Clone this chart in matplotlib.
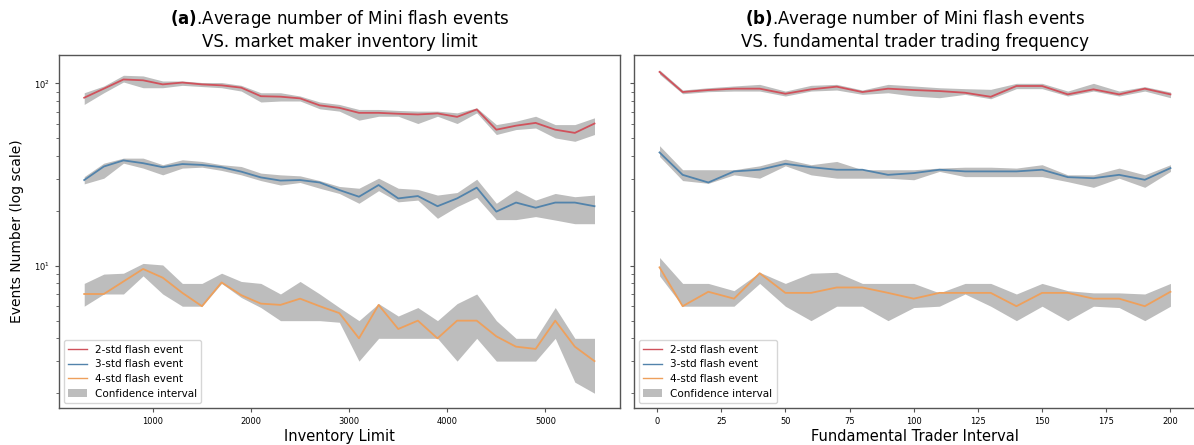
import matplotlib
matplotlib.use("Agg")
import matplotlib.pyplot as plt
from matplotlib.patches import Patch
from matplotlib.lines import Line2D

# ---------------- data ----------------
inventory_limit = [300, 500, 700, 900, 1100, 1300, 1500, 1700, 1900, 2100, 2300, 2500, 2700,
                   2900, 3100, 3300, 3500, 3700, 3900, 4100, 4300, 4500, 4700, 4900, 5100, 5300, 5500]

std2_a = [83.4, 93.5, 105.0, 103.9, 98.7, 101.0, 98.7, 97.5, 94.7, 85.0, 84.5, 82.7, 75.7, 73.4,
          68.9, 68.9, 68.1, 67.5, 68.4, 65.5, 71.9, 55.7, 58.6, 60.7, 55.7, 53.5, 60.2]
std2_a_lo = [76.6, 88.8, 101.7, 94.6, 94.6, 97.5, 96.0, 94.6, 90.7, 79.0, 80.0, 80.0, 72.5, 70.4,
             62.8, 66.0, 66.0, 60.2, 66.0, 60.2, 68.9, 52.4, 55.8, 56.9, 50.2, 48.1, 52.4]
std2_a_hi = [88.8, 96.7, 110.7, 109.8, 103.0, 103.0, 101.0, 101.0, 97.5, 88.8, 88.8, 85.2, 79.0, 76.6,
             71.9, 71.9, 71.0, 70.4, 70.4, 68.9, 73.4, 59.4, 62.0, 66.0, 59.4, 59.4, 64.7]

std3_a = [29.5, 35.0, 37.8, 36.5, 34.7, 36.1, 35.7, 34.7, 32.8, 30.5, 29.3, 29.5, 28.6, 26.0,
          23.9, 27.7, 23.4, 24.1, 21.2, 23.4, 26.8, 19.8, 22.2, 20.8, 22.2, 22.2, 21.2]
std3_a_lo = [28.1, 30.2, 36.5, 34.3, 31.5, 34.3, 34.7, 33.3, 31.5, 29.3, 27.7, 28.6, 26.6, 24.9,
             22.0, 25.8, 22.4, 22.9, 18.2, 21.1, 23.7, 17.9, 17.9, 18.6, 17.8, 17.0, 17.0]
std3_a_hi = [30.8, 36.5, 38.9, 38.9, 35.8, 38.1, 37.3, 35.8, 35.0, 32.2, 31.5, 31.1, 29.3, 27.2,
             26.6, 30.2, 26.6, 26.2, 24.4, 25.2, 29.8, 22.0, 26.0, 22.9, 24.9, 23.9, 24.4]

std4_a = [7.0, 7.0, 8.2, 9.6, 8.6, 7.1, 6.0, 8.1, 6.9, 6.2, 6.1, 6.6, 6.0, 5.5,
          4.0, 6.1, 4.5, 5.0, 4.0, 5.0, 5.0, 4.1, 3.6, 3.5, 5.0, 3.6, 3.0]
std4_a_lo = [6.0, 7.0, 7.0, 8.8, 7.0, 6.0, 6.0, 8.0, 6.7, 5.9, 5.0, 5.0, 5.0, 4.9,
             3.0, 4.0, 4.0, 4.0, 4.0, 3.0, 4.0, 3.0, 3.0, 3.0, 4.0, 2.3, 2.0]
std4_a_hi = [8.0, 9.0, 9.1, 10.3, 10.1, 8.0, 8.0, 9.1, 8.2, 8.0, 7.0, 8.2, 7.0, 5.9,
             5.0, 6.2, 5.3, 5.9, 5.0, 6.2, 7.0, 5.0, 4.0, 4.0, 5.9, 4.0, 4.0]

trader_interval = [1, 10, 20, 30, 40, 50, 60, 70, 80, 90, 100, 110, 120, 130, 140, 150, 160, 170, 180, 190, 200]

std2_b = [115.5, 89.6, 91.9, 93.5, 93.5, 87.7, 92.7, 95.9, 89.6, 93.5, 91.9, 90.7, 88.8, 84.4,
          96.7, 96.7, 87.0, 92.7, 87.0, 93.5, 87.0]
std2_b_lo = [112.1, 87.7, 90.0, 90.7, 90.7, 85.2, 90.7, 91.9, 87.0, 88.8, 85.2, 83.4, 87.0, 82.3,
             93.5, 93.5, 85.2, 90.7, 85.2, 90.7, 83.4]
std2_b_hi = [118.4, 91.9, 94.6, 96.7, 98.7, 90.7, 97.5, 98.7, 91.9, 98.7, 96.7, 94.6, 93.5, 92.7,
             100.0, 100.0, 90.7, 100.0, 90.7, 95.9, 89.6]

std3_b = [41.8, 31.5, 28.6, 32.9, 33.6, 36.2, 34.7, 33.6, 33.6, 31.5, 32.2, 33.6, 32.9, 32.9,
          32.9, 33.6, 30.6, 30.2, 31.5, 29.6, 34.3]
std3_b_lo = [39.7, 29.3, 28.3, 31.5, 30.2, 35.3, 31.5, 30.2, 30.2, 30.2, 29.6, 32.9, 30.8, 30.8,
             30.8, 30.8, 28.9, 26.9, 30.2, 26.9, 32.9]
std3_b_hi = [45.5, 33.6, 33.6, 33.6, 35.3, 38.4, 35.8, 37.3, 33.6, 33.6, 33.6, 34.3, 34.7, 34.7,
             34.3, 35.8, 31.5, 31.5, 34.3, 31.5, 35.8]

std4_b = [9.8, 6.0, 7.2, 6.6, 9.1, 7.1, 7.1, 7.6, 7.6, 7.1, 6.6, 7.1, 7.1, 7.1,
          6.0, 7.1, 7.1, 6.6, 6.6, 6.0, 7.2]
std4_b_lo = [8.8, 6.0, 6.0, 6.0, 8.0, 6.0, 5.0, 6.0, 6.0, 5.0, 5.9, 6.0, 7.0, 6.0,
             5.0, 6.0, 5.0, 6.0, 5.9, 5.0, 6.0]
std4_b_hi = [11.1, 8.0, 8.0, 7.3, 9.2, 8.0, 9.1, 9.2, 8.0, 8.0, 8.0, 7.1, 8.0, 8.0,
             7.0, 8.0, 7.3, 7.1, 7.1, 7.0, 8.0]

series_labels = ["2-std flash event", "3-std flash event", "4-std flash event"]
ci_label = "Confidence interval"
titles = [r"$\mathbf{(a)}$.Average number of Mini flash events" + "\nVS. market maker inventory limit",
          r"$\mathbf{(b)}$.Average number of Mini flash events" + "\nVS. fundamental trader trading frequency"]
xlabels = ["Inventory Limit", "Fundamental Trader Interval"]
ylabel = "Events Number (log scale)"

# ---------------- style ----------------
line_colors = ["#d0525c", "#5283ab", "#eea05c"]
fill_color = "#bdbdbd"
spine_color = "#555555"

W, H = 1194, 445
fig = plt.figure(figsize=(W / 100, H / 100), dpi=100)
top, bottom = 55, 408
ax1 = fig.add_axes([58.7 / W, (H - bottom) / H, (620 - 58.7) / W, (bottom - top) / H])
ax2 = fig.add_axes([634 / W, (H - bottom) / H, (1196 - 634) / W, (bottom - top) / H], sharey=ax1)

panels = [
    (ax1, inventory_limit, [(std2_a, std2_a_lo, std2_a_hi), (std3_a, std3_a_lo, std3_a_hi), (std4_a, std4_a_lo, std4_a_hi)]),
    (ax2, trader_interval, [(std2_b, std2_b_lo, std2_b_hi), (std3_b, std3_b_lo, std3_b_hi), (std4_b, std4_b_lo, std4_b_hi)]),
]

for k, (ax, x, series) in enumerate(panels):
    for (mid, lo, hi), c in zip(series, line_colors):
        ax.fill_between(x, lo, hi, color=fill_color, linewidth=0, zorder=1)
    for (mid, lo, hi), c in zip(series, line_colors):
        ax.plot(x, mid, color=c, lw=1.3, zorder=3)
    ax.set_yscale("log")
    ax.set_title(titles[k], fontsize=12, pad=6)
    ax.set_xlabel(xlabels[k], fontsize=10.5, labelpad=2)
    ax.tick_params(labelsize=6, length=3, width=0.8, color=spine_color)
    ax.tick_params(which="minor", length=2, width=0.6, color=spine_color)
    for s in ax.spines.values():
        s.set_color(spine_color)
        s.set_linewidth(1.0)
    handles = [Line2D([], [], color=c, lw=1.0) for c in line_colors] + [Patch(facecolor=fill_color, edgecolor="none")]
    ax.legend(handles, series_labels + [ci_label], loc="lower left", fontsize=7.5,
              handlelength=1.8, labelspacing=0.45, borderaxespad=0.5, framealpha=0.8)

ax1.set_ylim(1.66, 143)
ax2.tick_params(labelleft=False)
ax1.set_xticks([1000, 2000, 3000, 4000, 5000])
ax2.set_xticks([0, 25, 50, 75, 100, 125, 150, 175, 200])
ax1.set_ylabel(ylabel, fontsize=10, labelpad=7)

fig.savefig("out.png", dpi=100)
